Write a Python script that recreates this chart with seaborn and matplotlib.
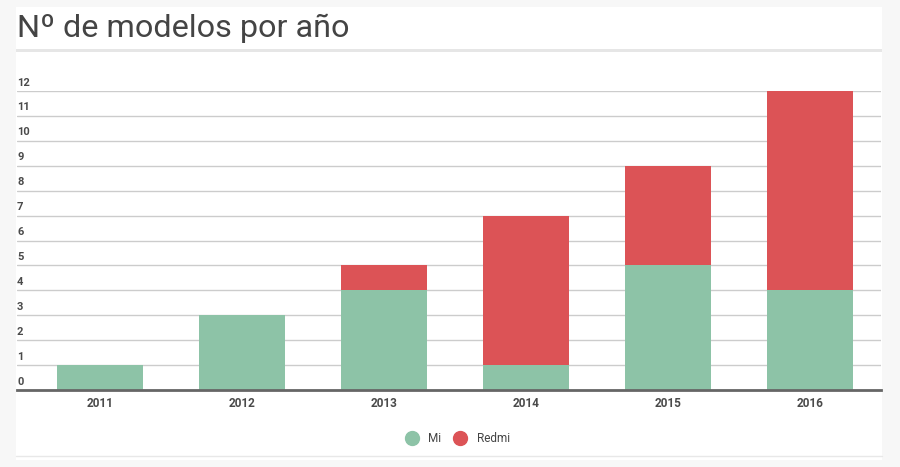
import matplotlib
matplotlib.use("Agg")
import matplotlib.pyplot as plt
from matplotlib.patches import Rectangle
from matplotlib.lines import Line2D
import matplotlib.transforms as mtransforms
import seaborn as sns
import pandas as pd

years = ["2011", "2012", "2013", "2014", "2015", "2016"]
mi = [1, 3, 4, 1, 5, 4]
redmi = [0, 0, 1, 6, 4, 8]
series_names = ["Mi", "Redmi"]

GREEN = "#8dc3a7"
RED = "#dc5356"
TEXT = "#444444"

sns.set_theme(style="white")
plt.rcParams["font.family"] = ["Roboto", "DejaVu Sans"]

df = pd.DataFrame({"year": years, "Mi": mi, "Redmi": redmi})
df["total"] = df["Mi"] + df["Redmi"]

W, H = 900, 467
fig = plt.figure(figsize=(9, 4.67), dpi=100, facecolor="#f7f7f7")

# white card + title underline (kept behind the axes)
fig.patches.append(Rectangle((16 / W, 1 - 460 / H), 866 / W, 453 / H,
                             transform=fig.transFigure, facecolor="white",
                             edgecolor="none", zorder=-2))
fig.patches.append(Rectangle((16 / W, 1 - 52 / H), 866 / W, 3 / H,
                             transform=fig.transFigure, facecolor="#e6e6e6",
                             edgecolor="none", zorder=-1))
fig.lines.append(Line2D([16 / W, 882 / W], [1 - 456 / H, 1 - 456 / H],
                        transform=fig.transFigure, color="#e8e8e8", lw=1,
                        zorder=-1))

fig.text(17 / W, 1 - 37 / H, "Nº de modelos por año", fontsize=23.3,
         color=TEXT, ha="left", va="baseline")

ax = fig.add_axes([17 / W, 1 - 390 / H, 864 / W, 299 / H])
ax.set_zorder(2)
ax.set_facecolor("none")

sns.barplot(data=df, x="year", y="total", color=RED, width=0.6,
            saturation=1, linewidth=0, ax=ax, zorder=3)
sns.barplot(data=df, x="year", y="Mi", color=GREEN, width=0.6,
            saturation=1, linewidth=0, ax=ax, zorder=4)

ax.set_xlim(-0.5 - 12 / 142, 5.5)
ax.set_ylim(0, 12)
ax.set_yticks(range(0, 13))
ax.yaxis.grid(True, color="#cccccc", lw=1)
ax.set_axisbelow(True)
ax.tick_params(axis="y", left=False, labelleft=False)
ax.tick_params(axis="x", bottom=False, pad=-1, labelsize=8.5, labelcolor="#4a4a4a")
for lbl in ax.get_xticklabels():
    lbl.set_fontweight("bold")
ax.set_xlabel("")
ax.set_ylabel("")
for s in ["top", "right", "left"]:
    ax.spines[s].set_visible(False)
ax.spines["bottom"].set_color("#666666")
ax.spines["bottom"].set_linewidth(2)
ax.spines["bottom"].set_zorder(5)

# y labels sit above each grid line, at the left edge
trans = mtransforms.blended_transform_factory(ax.transAxes, ax.transData)
for v in range(0, 13):
    ax.annotate(str(v), (0, v), xycoords=trans, xytext=(0, 2.5),
                textcoords="offset points", ha="left", va="bottom",
                fontsize=8, color="#4a4a4a", fontweight="bold")

handles = [Line2D([], [], marker="o", ls="", markersize=10, color=c)
           for c in (GREEN, RED)]
fig.legend(handles, series_names, loc="center", bbox_to_anchor=(455 / W, 1 - 439 / H),
           ncol=2, frameon=False, fontsize=8.5, labelcolor=TEXT,
           handletextpad=0.4, columnspacing=0.6)

fig.savefig("out.png", dpi=100, facecolor=fig.get_facecolor())
